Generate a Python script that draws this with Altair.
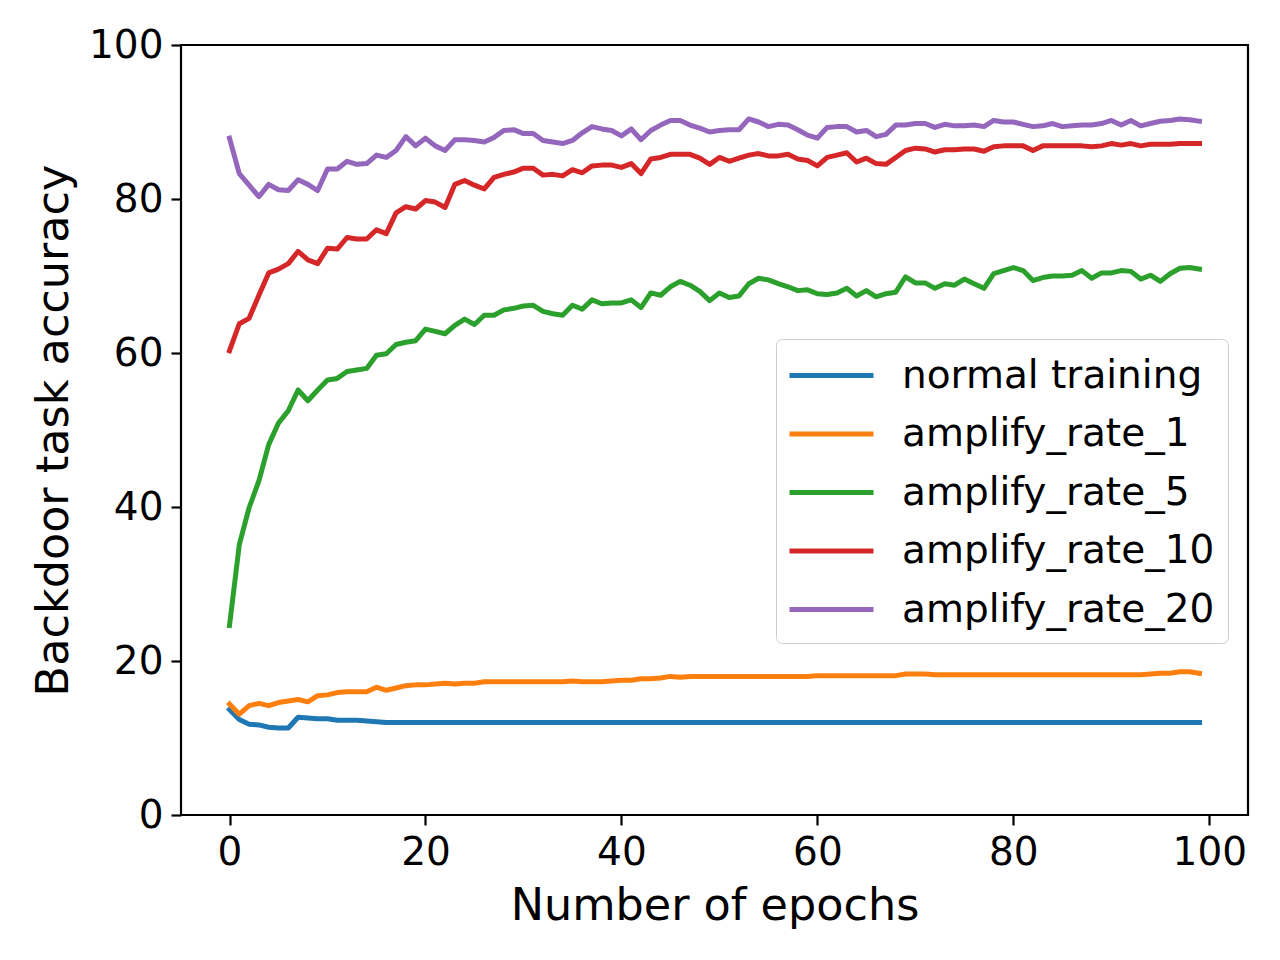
import altair as alt
import pandas as pd

series_names = ["normal training", "amplify_rate_1", "amplify_rate_5", "amplify_rate_10", "amplify_rate_20"]
series_colors = ["#1f77b4", "#ff7f0e", "#2ca02c", "#d62728", "#9467bd"]

epochs = list(range(100))

normal_training = [
    13.7, 12.4, 11.8, 11.7, 11.4, 11.3, 11.3, 12.7, 12.6, 12.5,
    12.5, 12.3, 12.3, 12.3, 12.2, 12.1, 12.0, 12.0, 12.0, 12.0,
    12.0, 12.0, 12.0, 12.0, 12.0, 12.0, 12.0, 12.0, 12.0, 12.0,
    12.0, 12.0, 12.0, 12.0, 12.0, 12.0, 12.0, 12.0, 12.0, 12.0,
    12.0, 12.0, 12.0, 12.0, 12.0, 12.0, 12.0, 12.0, 12.0, 12.0,
    12.0, 12.0, 12.0, 12.0, 12.0, 12.0, 12.0, 12.0, 12.0, 12.0,
    12.0, 12.0, 12.0, 12.0, 12.0, 12.0, 12.0, 12.0, 12.0, 12.0,
    12.0, 12.0, 12.0, 12.0, 12.0, 12.0, 12.0, 12.0, 12.0, 12.0,
    12.0, 12.0, 12.0, 12.0, 12.0, 12.0, 12.0, 12.0, 12.0, 12.0,
    12.0, 12.0, 12.0, 12.0, 12.0, 12.0, 12.0, 12.0, 12.0, 12.0,
]

amplify_rate_1 = [
    14.4, 13.1, 14.2, 14.5, 14.2, 14.6, 14.8, 15.0, 14.7, 15.5,
    15.6, 15.9, 16.0, 16.0, 16.0, 16.6, 16.2, 16.5, 16.8, 16.9,
    16.9, 17.0, 17.1, 17.0, 17.1, 17.1, 17.3, 17.3, 17.3, 17.3,
    17.3, 17.3, 17.3, 17.3, 17.3, 17.4, 17.3, 17.3, 17.3, 17.4,
    17.5, 17.5, 17.7, 17.7, 17.8, 18.0, 17.9, 18.0, 18.0, 18.0,
    18.0, 18.0, 18.0, 18.0, 18.0, 18.0, 18.0, 18.0, 18.0, 18.0,
    18.1, 18.1, 18.1, 18.1, 18.1, 18.1, 18.1, 18.1, 18.1, 18.3,
    18.3, 18.3, 18.2, 18.2, 18.2, 18.2, 18.2, 18.2, 18.2, 18.2,
    18.2, 18.2, 18.2, 18.2, 18.2, 18.2, 18.2, 18.2, 18.2, 18.2,
    18.2, 18.2, 18.2, 18.2, 18.3, 18.4, 18.4, 18.6, 18.6, 18.4,
]

amplify_rate_5 = [
    24.6, 35.1, 39.9, 43.4, 48.1, 50.9, 52.5, 55.2, 53.8, 55.2,
    56.5, 56.7, 57.6, 57.8, 58.0, 59.7, 59.9, 61.1, 61.4, 61.6,
    63.1, 62.8, 62.5, 63.6, 64.4, 63.7, 64.9, 64.9, 65.6, 65.8,
    66.1, 66.2, 65.4, 65.1, 64.9, 66.2, 65.7, 66.9, 66.4, 66.5,
    66.5, 66.9, 65.9, 67.8, 67.5, 68.6, 69.3, 68.8, 68.0, 66.8,
    67.8, 67.2, 67.4, 69.0, 69.7, 69.5, 69.0, 68.6, 68.1, 68.2,
    67.7, 67.6, 67.8, 68.4, 67.4, 68.1, 67.3, 67.7, 67.9, 69.9,
    69.1, 69.1, 68.4, 69.0, 68.8, 69.6, 69.0, 68.4, 70.3, 70.7,
    71.1, 70.7, 69.4, 69.8, 70.0, 70.0, 70.1, 70.7, 69.7, 70.4,
    70.4, 70.7, 70.6, 69.6, 70.1, 69.3, 70.3, 71.0, 71.1, 70.9,
]

amplify_rate_10 = [
    60.3, 63.8, 64.5, 67.5, 70.4, 70.9, 71.6, 73.2, 72.1, 71.6,
    73.6, 73.5, 75.0, 74.8, 74.8, 76.0, 75.5, 78.2, 79.0, 78.7,
    79.8, 79.6, 78.9, 81.9, 82.4, 81.8, 81.3, 82.8, 83.2, 83.5,
    84.0, 84.0, 83.1, 83.2, 83.0, 83.8, 83.4, 84.3, 84.4, 84.4,
    84.1, 84.6, 83.3, 85.2, 85.4, 85.8, 85.8, 85.8, 85.3, 84.5,
    85.4, 84.9, 85.3, 85.7, 85.9, 85.6, 85.6, 85.8, 85.2, 85.0,
    84.3, 85.4, 85.7, 86.0, 84.8, 85.3, 84.6, 84.5, 85.4, 86.3,
    86.6, 86.5, 86.1, 86.4, 86.4, 86.5, 86.5, 86.2, 86.8, 86.9,
    86.9, 86.9, 86.3, 86.9, 86.9, 86.9, 86.9, 86.9, 86.8, 86.9,
    87.2, 87.0, 87.2, 86.9, 87.1, 87.1, 87.1, 87.2, 87.2, 87.2,
]

amplify_rate_20 = [
    87.9, 83.3, 81.8, 80.3, 81.9, 81.2, 81.1, 82.5, 81.9, 81.1,
    83.9, 83.9, 84.9, 84.5, 84.6, 85.7, 85.4, 86.3, 88.1, 86.9,
    87.9, 86.9, 86.3, 87.7, 87.7, 87.6, 87.4, 88.0, 88.9, 89.0,
    88.5, 88.5, 87.6, 87.4, 87.2, 87.6, 88.6, 89.4, 89.1, 88.9,
    88.2, 89.1, 87.7, 88.9, 89.6, 90.2, 90.2, 89.6, 89.2, 88.7,
    88.9, 89.0, 89.0, 90.4, 90.0, 89.4, 89.7, 89.6, 89.0, 88.3,
    87.9, 89.3, 89.4, 89.4, 88.7, 88.9, 88.1, 88.4, 89.6, 89.6,
    89.8, 89.8, 89.3, 89.7, 89.5, 89.5, 89.6, 89.4, 90.2, 90.0,
    90.0, 89.7, 89.4, 89.5, 89.8, 89.4, 89.5, 89.6, 89.6, 89.8,
    90.2, 89.6, 90.2, 89.5, 89.8, 90.1, 90.2, 90.4, 90.3, 90.1,
]

x_ticks = [0, 20, 40, 60, 80, 100]
y_ticks = [0, 20, 40, 60, 80, 100]

all_series = [normal_training, amplify_rate_1, amplify_rate_5, amplify_rate_10, amplify_rate_20]
rows = []
for order, (name, vals) in enumerate(zip(series_names, all_series)):
    for e, v in zip(epochs, vals):
        rows.append({"epoch": e, "accuracy": v, "series": name, "order": order})
df = pd.DataFrame(rows)

FONT = "DejaVu Sans"

chart = alt.Chart(df).mark_line(strokeWidth=5, strokeJoin="round", strokeCap="square").encode(
    x=alt.X(
        "epoch:Q",
        scale=alt.Scale(domain=[-4.95, 103.95], nice=False, zero=False),
        axis=alt.Axis(values=x_ticks, title="Number of epochs", format="d"),
    ),
    y=alt.Y(
        "accuracy:Q",
        scale=alt.Scale(domain=[0, 100], nice=False),
        axis=alt.Axis(values=y_ticks, title="Backdoor task accuracy", format="d"),
    ),
    color=alt.Color(
        "series:N",
        scale=alt.Scale(domain=series_names, range=series_colors),
        legend=alt.Legend(
            title=None,
            orient="none",
            legendX=595,
            legendY=294,
            symbolType="M-2,0H2",
            symbolSize=1764,
            symbolStrokeWidth=5,
            symbolOffset=19,
            labelFontSize=39,
            labelFont=FONT,
            labelColor="black",
            labelOffset=47,
            labelLimit=800,
            padding=13,
            rowPadding=14.5,
            strokeColor="#cccccc",
            fillColor="white",
            cornerRadius=6,
        ),
    ),
    order=alt.Order("order:Q"),
).properties(
    width=1067,
    height=770,
    autosize=alt.AutoSizeParams(type="none"),
    padding={"left": 173, "top": 37, "right": 16, "bottom": 125},
).configure_view(
    stroke="black", strokeWidth=2.2
).configure_axis(
    grid=False,
    domain=False,
    tickColor="black",
    tickWidth=2.2,
    tickSize=10,
    labelFont=FONT,
    labelFontSize=39,
    labelColor="black",
    labelPadding=8,
    titleFont=FONT,
    titleFontSize=44.5,
    titleFontWeight="normal",
    titleColor="black",
).configure_axisY(
    titlePadding=12,
).configure_axisX(
    titlePadding=12,
)

chart.save("out.html", embed_options={"renderer": "svg", "actions": False})
